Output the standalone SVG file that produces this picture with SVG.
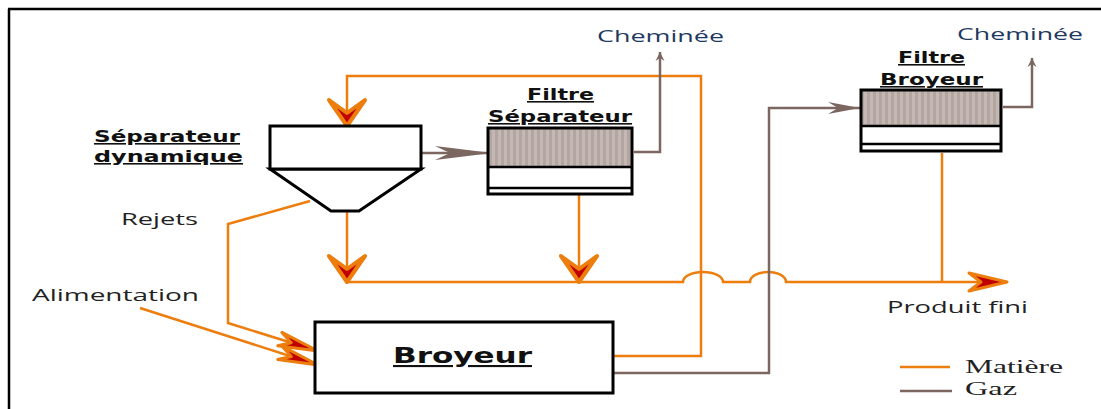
<svg xmlns="http://www.w3.org/2000/svg" width="1101" height="409" viewBox="0 0 1101 409">
<style>
.mat{fill:none;stroke:#ed7d0d;stroke-width:2.5}
.gaz{fill:none;stroke:#7b6660;stroke-width:2.5}
.box{fill:#fff;stroke:#000;stroke-width:3}
.outline{fill:none;stroke:#000;stroke-width:3}
.thin{fill:none;stroke:#000;stroke-width:2.5}
.lbl{font-family:"DejaVu Sans",Verdana,sans-serif;font-weight:bold;fill:#111;text-decoration:underline}
.txt{font-family:"Open Sans","DejaVu Sans",sans-serif;fill:#222}
.chem{font-family:"Open Sans","DejaVu Sans",sans-serif;fill:#1f3a5f}
.leg{font-family:"Liberation Serif","Times New Roman",serif;fill:#222}
</style>
<defs>
<pattern id="hatch" patternUnits="userSpaceOnUse" width="6" height="10">
<rect width="6" height="10" fill="#b3a6a1"/>
<rect width="3" height="10" fill="#c3b8b4"/>
</pattern>
<marker id="mBig" markerUnits="userSpaceOnUse" orient="auto" overflow="visible" markerWidth="1" markerHeight="1" refX="0" refY="0">
<path d="M-26,-18 L0,0 L-26,18 L-13,0 Z" fill="#c00000" stroke="#ed7d0d" stroke-width="4" stroke-linejoin="round"/>
</marker>
<marker id="mRight" markerUnits="userSpaceOnUse" orient="auto" overflow="visible" markerWidth="1" markerHeight="1" refX="0" refY="0">
<path d="M-38,-9 L0,0 L-38,9 L-26,0 Z" fill="#c00000" stroke="#ed7d0d" stroke-width="3" stroke-linejoin="round"/>
</marker>
<marker id="mSlim" markerUnits="userSpaceOnUse" orient="auto" overflow="visible" markerWidth="1" markerHeight="1" refX="0" refY="0">
<path d="M-40,-7 L0,0 L-40,7 L-28,0 Z" fill="#c00000" stroke="#ed7d0d" stroke-width="3" stroke-linejoin="round"/>
</marker>
<marker id="gLong" markerUnits="userSpaceOnUse" orient="auto" overflow="visible" markerWidth="1" markerHeight="1" refX="0" refY="0">
<path d="M-57,-7 L0,0 L-57,7 L-42,0 Z" fill="#7b6660"/>
</marker>
<marker id="gMid" markerUnits="userSpaceOnUse" orient="auto" overflow="visible" markerWidth="1" markerHeight="1" refX="0" refY="0">
<path d="M-32,-6 L0,0 L-32,6 L-22,0 Z" fill="#7b6660"/>
</marker>
<marker id="gSmall" markerUnits="userSpaceOnUse" orient="auto" overflow="visible" markerWidth="1" markerHeight="1" refX="0" refY="0">
<path d="M-9,-4.5 L0,0 L-9,4.5 L-6,0 Z" fill="#7b6660"/>
</marker>
</defs>

<rect width="1101" height="409" fill="#fff"/>
<path d="M8,9 H1101 M9,9 V409" fill="none" stroke="#000" stroke-width="2.5"/>

<g id="connectors">
<path class="mat" d="M613,356 H701 V76 H347 V126" marker-end="url(#mBig)"/>
<path class="mat" d="M347,211 V282" marker-end="url(#mBig)"/>
<path class="mat" d="M579,194 V282" marker-end="url(#mBig)"/>
<path class="mat" d="M347,282 H683 A20,10 0 0 1 723,282 H750 A18,10 0 0 1 786,282 H1007" marker-end="url(#mRight)"/>
<path class="mat" d="M942,153 V282"/>
<path class="mat" d="M310,201 L228,224 V323 L318,351" marker-end="url(#mSlim)"/>
<path class="mat" d="M140,308 L318,365" marker-end="url(#mSlim)"/>
<path class="gaz" d="M421,153 H492" marker-end="url(#gLong)"/>
<path class="gaz" d="M634,152 H660 V52" marker-end="url(#gSmall)"/>
<path class="gaz" d="M613,373 H769 V108 H860" marker-end="url(#gMid)"/>
<path class="gaz" d="M1003,107 H1032 V58" marker-end="url(#gSmall)"/>
</g>

<g id="separateur-dynamique">
<path class="box" d="M270,169 L331,211 H359 L421,169 Z"/>
<rect class="box" x="270" y="126" width="151" height="43"/>
<text class="lbl" x="94" y="142" font-size="16" textLength="146" lengthAdjust="spacingAndGlyphs">Séparateur</text>
<text class="lbl" x="94" y="162" font-size="16" textLength="149" lengthAdjust="spacingAndGlyphs">dynamique</text>
</g>

<g id="filtre-separateur">
<rect x="488" y="128" width="144" height="66" fill="#fff"/>
<rect x="488" y="128" width="144" height="39" fill="url(#hatch)"/>
<rect class="outline" x="488" y="128" width="144" height="66"/>
<path class="thin" d="M488,167 H632 M488,188 H632"/>
<text class="lbl" x="527" y="100" font-size="16" textLength="67" lengthAdjust="spacingAndGlyphs">Filtre</text>
<text class="lbl" x="488" y="122" font-size="16" textLength="144" lengthAdjust="spacingAndGlyphs">Séparateur</text>
</g>

<g id="filtre-broyeur">
<rect x="861" y="90" width="140" height="61" fill="#fff"/>
<rect x="861" y="90" width="140" height="36" fill="url(#hatch)"/>
<rect class="outline" x="861" y="90" width="140" height="61"/>
<path class="thin" d="M861,126 H1001 M861,144 H1001"/>
<text class="lbl" x="898" y="63" font-size="16" textLength="67" lengthAdjust="spacingAndGlyphs">Filtre</text>
<text class="lbl" x="880" y="85" font-size="16" textLength="103" lengthAdjust="spacingAndGlyphs">Broyeur</text>
</g>

<g id="broyeur">
<rect class="box" x="315" y="322" width="298" height="71"/>
<text class="lbl" x="393" y="363" font-size="21" textLength="139" lengthAdjust="spacingAndGlyphs">Broyeur</text>
</g>

<g id="cheminee-1">
<text class="chem" x="597" y="42" font-size="17" textLength="127" lengthAdjust="spacingAndGlyphs">Cheminée</text>
</g>
<g id="cheminee-2">
<text class="chem" x="957" y="40" font-size="17" textLength="126" lengthAdjust="spacingAndGlyphs">Cheminée</text>
</g>

<g id="labels">
<text class="txt" x="121" y="225" font-size="17" textLength="77" lengthAdjust="spacingAndGlyphs">Rejets</text>
<text class="txt" x="32" y="301" font-size="17" textLength="167" lengthAdjust="spacingAndGlyphs">Alimentation</text>
<text class="txt" x="887" y="313" font-size="17" textLength="141" lengthAdjust="spacingAndGlyphs">Produit fini</text>
</g>

<g id="legend">
<path class="mat" d="M900,367 H950"/>
<path class="gaz" d="M900,391 H952"/>
<text class="leg" x="965" y="373" font-size="19" textLength="98" lengthAdjust="spacingAndGlyphs">Matière</text>
<text class="leg" x="965" y="395" font-size="19" textLength="52" lengthAdjust="spacingAndGlyphs">Gaz</text>
</g>
</svg>
